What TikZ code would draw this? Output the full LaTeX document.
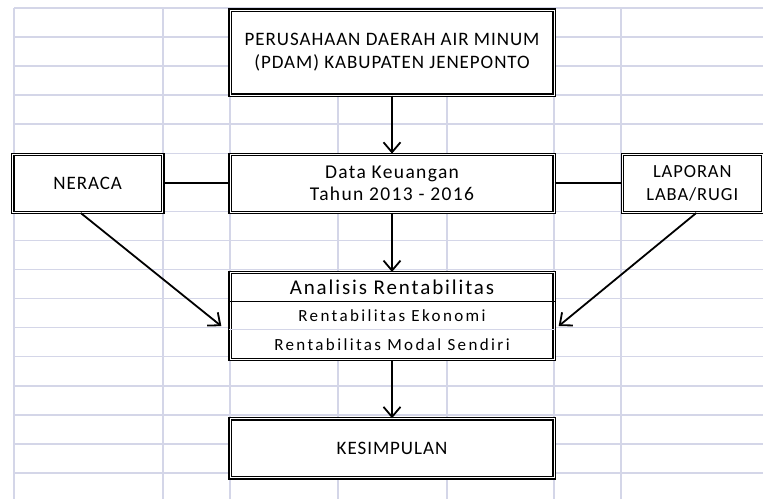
\documentclass[tikz,border=0pt]{standalone}
\usepackage{fontspec}
\setmainfont{Carlito}[LetterSpace=5]
\usetikzlibrary{positioning, calc, arrows.meta}
\definecolor{gridline}{RGB}{212,214,232}

\begin{document}
\begin{tikzpicture}[x=1pt,y=-1pt]
	\tikzstyle{block} = [rectangle, draw, double, double distance=1pt, line width=1.3pt, fill=white, align=center, inner sep=0pt, font=\fontsize{19}{23}\selectfont]
	\tikzstyle{to} = [-{Straight Barb[length=10pt,width=17pt]}, draw, line width=1.8pt]
	\tikzstyle{link} = [draw, line width=1.8pt]
	\tikzstyle{cell} = [draw=gridline, line width=1.5pt]
	\tikzstyle{row} = [inner sep=0pt, minimum width=320pt, font=\fontsize{17}{20}\selectfont\addfontfeature{LetterSpace=14}]

	\useasboundingbox (0,0) rectangle (763,499);

	% sheet grid
	\foreach \r in {0,...,16}
		\path[cell] (14,8+29.06*\r) -- (763,8+29.06*\r);
	\foreach \c in {14,163,230,338,447,554,621}
		\path[cell] (\c,8) -- (\c,499);

	% middle column
	\node[block, minimum width=324pt, minimum height=85pt] (pdam) at (392,52.5) {PERUSAHAAN DAERAH AIR MINUM\\(PDAM) KABUPATEN JENEPONTO};
	\node[block, minimum width=324pt, minimum height=58pt, below=58pt of pdam, font=\fontsize{19.5}{22}\selectfont\addfontfeature{LetterSpace=7}] (data) {Data Keuangan\\Tahun 2013 - 2016};
	\node[block, minimum width=324pt, minimum height=87pt, below=59pt of data] (analisis) {};
	\node[block, minimum width=324pt, minimum height=59pt, below=58pt of analisis] (kesimpulan) {KESIMPULAN};

	% side boxes
	\node[block, minimum width=150pt, minimum height=58pt, left=66pt of data] (neraca) {NERACA};
	\node[block, minimum width=140pt, minimum height=58pt, right=67pt of data, font=\fontsize{18.5}{23}\selectfont] (laporan) {LAPORAN\\LABA/RUGI};

	% rows of the analysis box
	\node[row, below=1pt of analisis.north, minimum height=28pt, font=\fontsize{21}{25}\selectfont\addfontfeature{LetterSpace=9}] (anhead) {Analisis Rentabilitas};
	\node[row, below=0pt of anhead, minimum height=28pt] (anrow1) {Rentabilitas Ekonomi};
	\node[row, below=0pt of anrow1, minimum height=29pt] (anrow2) {Rentabilitas Modal Sendiri};
	\path[link, line width=1.4pt] (anhead.south -| analisis.west) -- (anhead.south -| analisis.east);
	\path[cell, line width=1.2pt] (anrow1.south -| analisis.west) -- (anrow1.south -| analisis.east);

	% connectors
	\path[to] (pdam) -- (data);
	\path[to] (data) -- (analisis);
	\path[to] (analisis) -- (kesimpulan);
	\path[link] (neraca) -- (data);
	\path[link] (data) -- (laporan);

	\coordinate (left in) at ($(analisis.west)+(-8,10)$);
	\coordinate (right in) at ($(analisis.east)+(4,10)$);
	\path[to] ([xshift=-7pt]neraca.south) -- (left in);
	\path[to] ([xshift=4pt]laporan.south) -- (right in);
\end{tikzpicture}
\end{document}
